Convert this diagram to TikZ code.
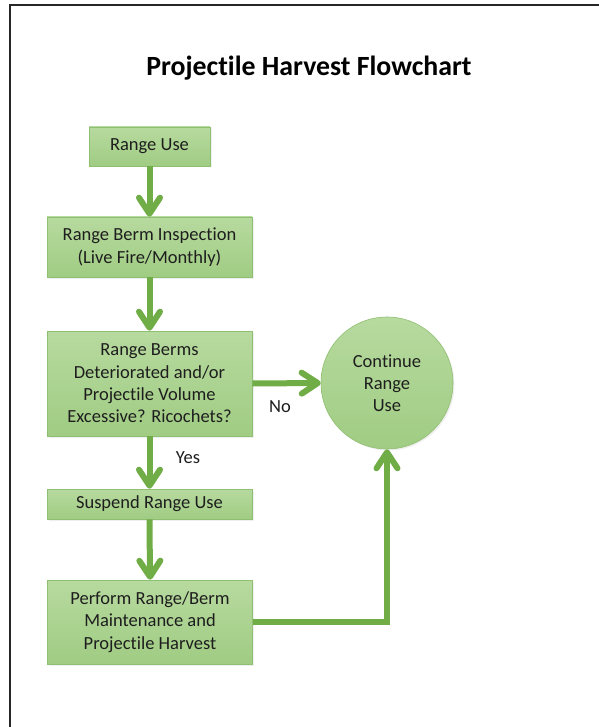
\documentclass[tikz,border=0pt]{standalone}
\usepackage{fontspec}
\setmainfont{Carlito}[Ligatures=NoCommon]
\usetikzlibrary{arrows.meta,shadows}
\definecolor{boxtop}{HTML}{B7DA9F}
\definecolor{boxbot}{HTML}{A0CC83}
\definecolor{boxline}{HTML}{8FBF70}
\definecolor{arrgreen}{HTML}{70AD47}
\definecolor{txt}{HTML}{1E1E1E}
\tikzset{
  flowbox/.style={rectangle, draw=boxline, line width=0.6pt, top color=boxtop, bottom color=boxbot,
    inner sep=0pt, align=center, text=txt, font=\fontsize{18.5}{22.3}\selectfont,
    drop shadow={opacity=0.12, shadow xshift=1.5pt, shadow yshift=-1.5pt}},
  flowcirc/.style={circle, draw=boxline, line width=0.6pt, top color=boxtop, bottom color=boxbot,
    inner sep=0pt, align=center, text=txt, font=\fontsize{18.5}{22.3}\selectfont,
    drop shadow={opacity=0.12, shadow xshift=1.5pt, shadow yshift=-1.5pt}},
  arr/.style={draw=arrgreen, line width=6pt, -{Straight Barb[length=16pt,width=21pt,round]}},
  lbl/.style={text=txt, font=\fontsize{18.5}{22.3}\selectfont, inner sep=0pt},
}
\begin{document}
\begin{tikzpicture}[x=1pt,y=-1pt]
\useasboundingbox (0,0) rectangle (598,727);
\fill[white] (0,0) rectangle (598,727);
\draw[black!85, line width=2pt] (10,740) -- (10,5) -- (610,5);
\node[text=black, font=\bfseries\fontsize{27.8}{32}\selectfont] (title) at (309,68) {Projectile Harvest Flowchart};
\node[flowbox, minimum width=121pt, minimum height=39pt] (use) at (149.5,146.5) {Range Use};
\node[flowbox, minimum width=205pt, minimum height=60pt] (insp) at (149.5,247) {Range Berm Inspection\\(Live Fire/Monthly)};
\node[flowbox, minimum width=205pt, minimum height=105pt] (dec) at (149.5,383.5) {Range Berms\\Deteriorated and/or\\Projectile Volume\\Excessive? Ricochets?};
\node[flowbox, minimum width=205pt, minimum height=30pt] (susp) at (149.5,504) {Suspend Range Use};
\node[flowbox, minimum width=205pt, minimum height=84pt] (perf) at (150,622) {Perform Range/Berm\\Maintenance and\\Projectile Harvest};
\node[flowcirc, minimum size=132pt] (cont) at (387,383) {Continue\\Range\\Use};
\draw[arr] (use.south) -- (insp.north);
\draw[arr] (insp.south) -- (dec.north);
\draw[arr] (dec.south) -- (susp.north);
\draw[arr] (susp.south) -- (perf.north);
\draw[arr] (dec.east) -- (cont.west);
\draw[arr] (perf.east) -| (cont.south);
\node[lbl] (yes) at (188,458) {Yes};
\node[lbl] (no) at (280,407) {No};
\end{tikzpicture}
\end{document}
